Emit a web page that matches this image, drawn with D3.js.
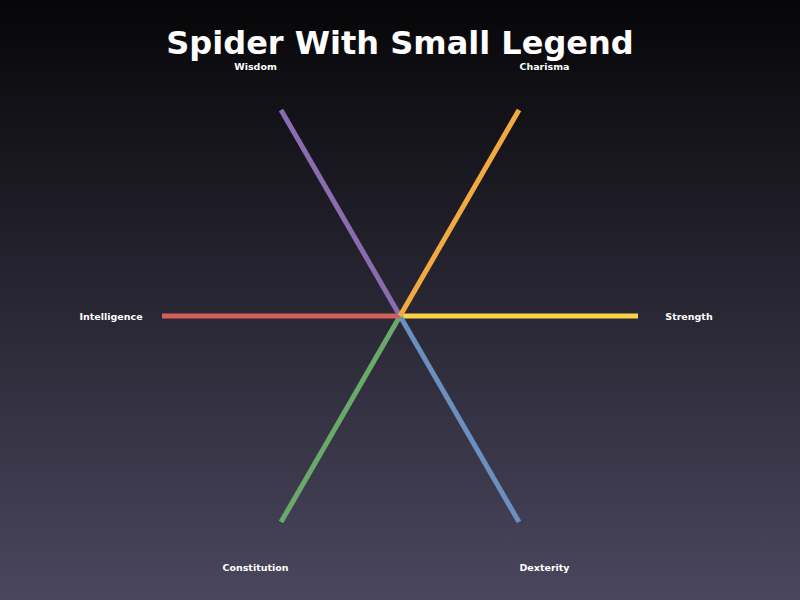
<!DOCTYPE html>
<html>
<head>
<meta charset="utf-8">
<script src="https://cdn.jsdelivr.net/npm/d3@7"></script>
<style>
  html, body { margin: 0; padding: 0; background: #000; }
  svg { display: block; font-family: "DejaVu Sans", sans-serif; }
</style>
</head>
<body>
<svg id="main-svg" width="800" height="600"></svg>
<script>
const attributes = ['Strength', 'Dexterity', 'Constitution', 'Intelligence', 'Wisdom', 'Charisma'];
const values = [10, 10, 10, 10, 10, 10];
const colors = ['#f9d448', '#6b8fbf', '#6aaa68', '#d4605a', '#8c6cb0', '#f2aa40'];

const width = 800, height = 600;
const cx = 400, cy = 316;
const RADIUS = 238;
const LABEL_RADIUS = 289;

const svg = d3.select('#main-svg');

const defs = svg.append('defs');
const grad = defs.append('linearGradient')
  .attr('id', 'bg')
  .attr('x1', 0).attr('y1', 0).attr('x2', 0).attr('y2', 1);
grad.append('stop').attr('offset', '0%').attr('stop-color', '#060608');
grad.append('stop').attr('offset', '100%').attr('stop-color', '#4a465e');

svg.append('rect')
  .attr('width', width)
  .attr('height', height)
  .attr('fill', 'url(#bg)');

svg.append('text')
  .attr('x', width / 2)
  .attr('y', 54)
  .attr('text-anchor', 'middle')
  .attr('fill', '#fff')
  .attr('font-size', 32)
  .attr('font-weight', 'bold')
  .text('Spider With Small Legend');

// angle scale: one spoke per attribute, clockwise from the right
const angle = d3.scaleBand()
  .domain(attributes)
  .range([0, 2 * Math.PI]);
const r = d3.scaleLinear()
  .domain([0, 10])
  .range([0, RADIUS]);

const g = svg.append('g').attr('transform', `translate(${cx},${cy})`);

const data = attributes.map((name, i) => ({name, value: values[i], color: colors[i]}));

g.selectAll('line.spoke')
  .data(data)
  .join('line')
  .attr('class', 'spoke')
  .attr('x1', 0)
  .attr('y1', 0)
  .attr('x2', d => r(d.value) * Math.cos(angle(d.name)))
  .attr('y2', d => r(d.value) * Math.sin(angle(d.name)))
  .attr('stroke', d => d.color)
  .attr('stroke-width', 5);

g.selectAll('text.label')
  .data(data)
  .join('text')
  .attr('class', 'label')
  .attr('x', d => LABEL_RADIUS * Math.cos(angle(d.name)))
  .attr('y', d => LABEL_RADIUS * Math.sin(angle(d.name)))
  .attr('dy', '0.45em')
  .attr('text-anchor', 'middle')
  .attr('fill', '#fff')
  .attr('font-size', 9.5)
  .attr('font-weight', 'bold')
  .text(d => d.name);
</script>
</body>
</html>
